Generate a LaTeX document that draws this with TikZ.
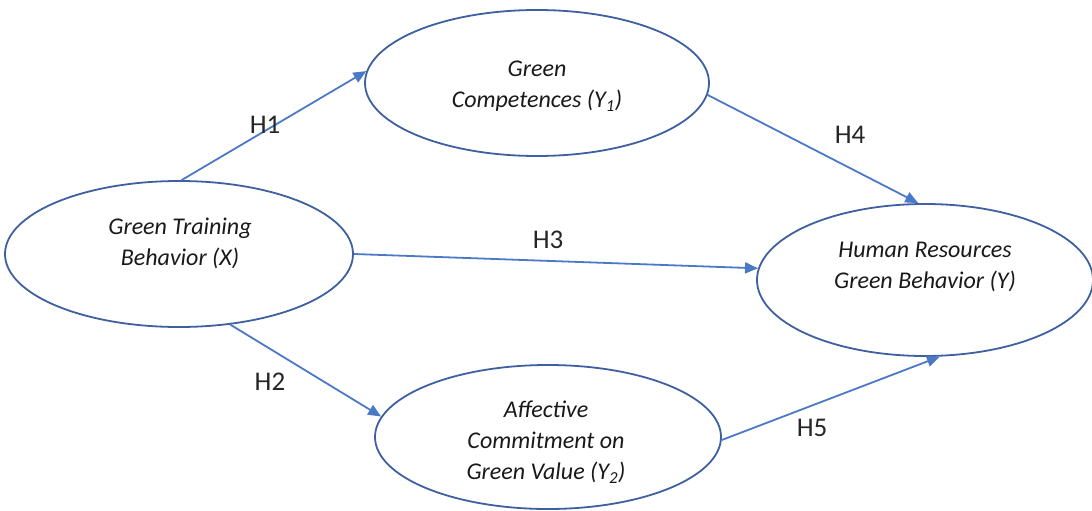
\documentclass[tikz,border=0pt]{standalone}
\usepackage{fontspec}
\setmainfont{Carlito}
\usetikzlibrary{shapes.geometric,arrows.meta}
\definecolor{ellblue}{RGB}{62,96,160}
\definecolor{arrblue}{RGB}{76,120,200}
\begin{document}
\begin{tikzpicture}[x=1pt,y=-1pt,
  latent/.style={ellipse,draw=ellblue,line width=1.8pt,inner sep=0pt},
  ltext/.style={align=center,inner sep=0pt,font=\fontsize{24}{31}\selectfont\itshape,text=black!90},
  path/.style={draw=arrblue,line width=1.8pt,-{Triangle[length=13pt,width=11pt]}},
  hlab/.style={font=\fontsize{27}{30}\selectfont,text=black!85}]
\useasboundingbox (0,0) rectangle (1092,511);
\node[latent,minimum width=348pt,minimum height=146pt] (X) at (179,254) {};
\node[latent,minimum width=344pt,minimum height=146pt] (Y1) at (537,83) {};
\node[latent,minimum width=336pt,minimum height=152pt] (Y) at (925,280) {};
\node[latent,minimum width=346pt,minimum height=144pt] (Y2) at (548,437) {};
\node[ltext] (tX) at (180,243) {Green Training\\Behavior (X)};
\node[ltext] (tY1) at (537,86) {Green\\Competences (Y\textsubscript{1})};
\node[ltext] (tY) at (925,267) {Human Resources\\Green Behavior (Y)};
\node[ltext] (tY2) at (546,442) {Affective\\Commitment on\\Green Value (Y\textsubscript{2})};
\draw[path] (X.88) -- (Y1.176);
\draw[path] (Y1.-4) -- (Y.95);
\draw[path] (X.0) -- (Y.176);
\draw[path] (X.-54) -- (Y2.173);
\draw[path] (Y2.-1) -- (Y.-79);
\node[hlab] (h1) at (265,125) {H1};
\node[hlab] (h4) at (850,135) {H4};
\node[hlab] (h3) at (548,240) {H3};
\node[hlab] (h2) at (270,382) {H2};
\node[hlab] (h5) at (812,428) {H5};
\end{tikzpicture}
\end{document}
